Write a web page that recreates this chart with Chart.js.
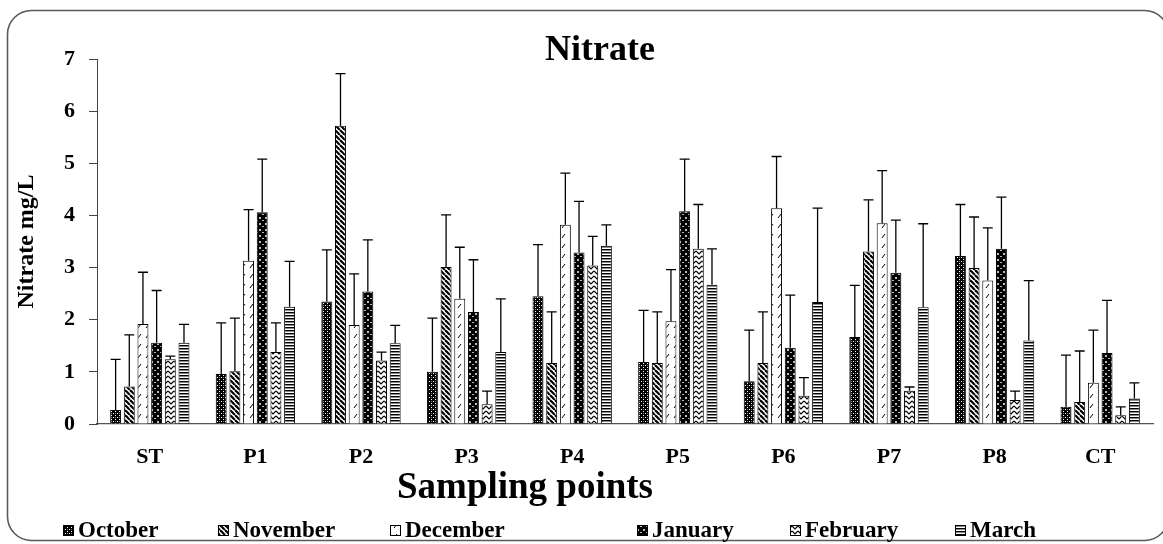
<!DOCTYPE html>
<html>
<head>
<meta charset="utf-8">
<script src="https://cdn.jsdelivr.net/npm/chart.js@4.4.0/dist/chart.umd.min.js"></script>
<style>
  html, body { margin: 0; padding: 0; background: #fff; }
  canvas { display: block; }
</style>
</head>
<body>
<canvas id="chart" width="1163" height="544"></canvas>
<script>
// data (means and upper error bar lengths)
const points = ['ST', 'P1', 'P2', 'P3', 'P4', 'P5', 'P6', 'P7', 'P8', 'CT'];
const months = ['October', 'November', 'December', 'January', 'February', 'March'];

const october    = [0.27, 0.96, 2.35, 1.00, 2.45, 1.19, 0.82, 1.67, 3.22, 0.33];
const octoberSd  = [0.97, 0.98, 0.99, 1.03, 0.99, 0.99, 0.98, 0.99, 0.99, 0.99];
const november   = [0.72, 1.01, 5.72, 3.01, 1.17, 1.17, 1.17, 3.31, 2.99, 0.42];
const novemberSd = [0.99, 1.02, 1.00, 1.00, 0.98, 0.98, 0.98, 0.99, 0.98, 0.98];
const december   = [1.92, 3.13, 1.90, 2.40, 3.82, 1.97, 4.14, 3.85, 2.75, 0.79];
const decemberSd = [0.99, 0.98, 0.98, 0.99, 0.99, 0.99, 0.99, 1.01, 1.01, 1.01];
const january    = [1.56, 4.06, 2.54, 2.15, 3.29, 4.08, 1.46, 2.90, 3.36, 1.36];
const januarySd  = [1.00, 1.02, 0.99, 1.00, 0.98, 1.00, 1.01, 1.01, 0.99, 1.01];
const february   = [1.24, 1.38, 1.22, 0.38, 3.04, 3.36, 0.54, 0.64, 0.46, 0.17];
const februarySd = [0.06, 0.56, 0.16, 0.25, 0.56, 0.85, 0.35, 0.07, 0.17, 0.16];
const march      = [1.56, 2.25, 1.55, 1.38, 3.42, 2.67, 2.34, 2.24, 1.60, 0.49];
const marchSd    = [0.35, 0.87, 0.34, 1.02, 0.40, 0.69, 1.80, 1.60, 1.15, 0.30];

const yMin = 0, yMax = 7, yStep = 1;

const FONT = "'Liberation Serif', 'Times New Roman', serif";

const canvas = document.getElementById('chart');
const ctx = canvas.getContext('2d');

// black & white hatch fills
function makePattern(w, h, bg, draw) {
  const c = document.createElement('canvas');
  c.width = w; c.height = h;
  const g = c.getContext('2d');
  g.fillStyle = bg;
  g.fillRect(0, 0, w, h);
  g.strokeStyle = '#000';
  g.fillStyle = '#000';
  draw(g);
  return ctx.createPattern(c, 'repeat');
}

const patterns = [
  makePattern(4, 4, '#000', g => {
    g.fillStyle = '#fff';
    g.fillRect(1, 1, 1, 1);
    g.fillRect(3, 3, 1, 1);
    g.fillStyle = '#777';
    g.fillRect(3, 1, 1, 1);
  }),
  makePattern(5, 5, '#fff', g => {
    g.lineWidth = 2.2;
    for (let k = -5; k <= 5; k += 5) {
      g.beginPath(); g.moveTo(k, 0); g.lineTo(k + 5, 5); g.stroke();
    }
  }),
  makePattern(8, 10, '#fff', g => {
    g.lineWidth = 1;
    g.beginPath(); g.moveTo(2, 8); g.lineTo(5, 4); g.stroke();
  }),
  makePattern(6, 6, '#000', g => {
    g.fillStyle = '#bbb';
    g.fillRect(1, 1, 2, 2);
    g.fillRect(4, 4, 2, 1);
  }),
  makePattern(6, 5, '#fff', g => {
    g.lineWidth = 1.2;
    g.beginPath(); g.moveTo(0, 1); g.lineTo(3, 4); g.lineTo(6, 1); g.stroke();
  }),
  makePattern(4, 3, '#fff', g => {
    g.fillRect(0, 0, 4, 1);
    g.fillStyle = '#888';
    g.fillRect(0, 1, 4, 1);
  })
];

const series = [october, november, december, january, february, march];
const errors = [octoberSd, novemberSd, decemberSd, januarySd, februarySd, marchSd];

const datasets = months.map((m, i) => ({
  label: m,
  data: series[i],
  sd: errors[i],
  backgroundColor: patterns[i],
  borderColor: '#000',
  borderWidth: 1,
  categoryPercentage: 0.777,
  barPercentage: 0.8
}));

// upper-only error bars with caps
const errorBars = {
  id: 'errorBars',
  afterDatasetsDraw(chart) {
    const c = chart.ctx;
    const y = chart.scales.y;
    c.save();
    c.strokeStyle = '#000';
    c.lineWidth = 1.3;
    chart.data.datasets.forEach((ds, i) => {
      chart.getDatasetMeta(i).data.forEach((bar, j) => {
        const top = y.getPixelForValue(ds.data[j] + ds.sd[j]);
        c.beginPath();
        c.moveTo(bar.x, bar.y);
        c.lineTo(bar.x, top);
        c.moveTo(bar.x - 5, top);
        c.lineTo(bar.x + 5, top);
        c.stroke();
      });
    });
    c.restore();
  }
};

// frame, title, x title and legend
const legendX = [63, 218, 390, 637, 790, 955];
const decor = {
  id: 'decor',
  beforeDraw(chart) {
    const c = chart.ctx;
    c.save();
    c.fillStyle = '#fff';
    c.fillRect(0, 0, chart.width, chart.height);
    c.strokeStyle = '#5a5a5a';
    c.lineWidth = 1.6;
    c.beginPath();
    c.roundRect(7.5, 10.5, 1161, 530, 24);
    c.stroke();
    c.restore();
  },
  afterDraw(chart) {
    const c = chart.ctx;
    c.save();
    c.fillStyle = '#000';
    c.textBaseline = 'middle';
    c.textAlign = 'center';
    c.font = 'bold 36px ' + FONT;
    c.fillText('Nitrate', 600, 51);
    c.font = 'bold 37px ' + FONT;
    c.fillText('Sampling points', 525, 488);

    c.textAlign = 'left';
    c.font = 'bold 23px ' + FONT;
    chart.data.datasets.forEach((ds, i) => {
      const x = legendX[i];
      c.fillStyle = ds.backgroundColor;
      c.fillRect(x, 525, 10, 10);
      c.strokeStyle = '#000';
      c.lineWidth = 1;
      c.strokeRect(x + 0.5, 525.5, 10, 10);
      c.fillStyle = '#000';
      c.fillText(ds.label, x + 15, 531);
    });
    c.restore();
  }
};

const chart = new Chart(ctx, {
  type: 'bar',
  data: { labels: points, datasets },
  options: {
    responsive: false,
    animation: false,
    layout: { padding: { left: 8, right: 10, top: 59, bottom: 80 } },
    plugins: {
      legend: { display: false },
      title: { display: false },
      tooltip: { enabled: false }
    },
    scales: {
      x: {
        grid: { display: false },
        border: { display: true, color: '#555', width: 1.2 },
        ticks: { color: '#000', padding: 12, font: { family: FONT, size: 22, weight: 'bold' } },
        afterFit: s => { s.height = 40; }
      },
      y: {
        min: yMin,
        max: yMax,
        ticks: { stepSize: yStep, color: '#000', padding: 14, font: { family: FONT, size: 22, weight: 'bold' } },
        grid: { drawOnChartArea: false, drawTicks: true, tickLength: 8, color: '#444' },
        border: { display: true, color: '#444', width: 1 },
        title: {
          display: true,
          text: 'Nitrate mg/L',
          color: '#000',
          padding: { top: 4, bottom: 0 },
          font: { family: FONT, size: 24, weight: 'bold' }
        },
        afterFit: s => { s.width = 89; }
      }
    }
  },
  plugins: [errorBars, decor]
});
</script>
</body>
</html>
